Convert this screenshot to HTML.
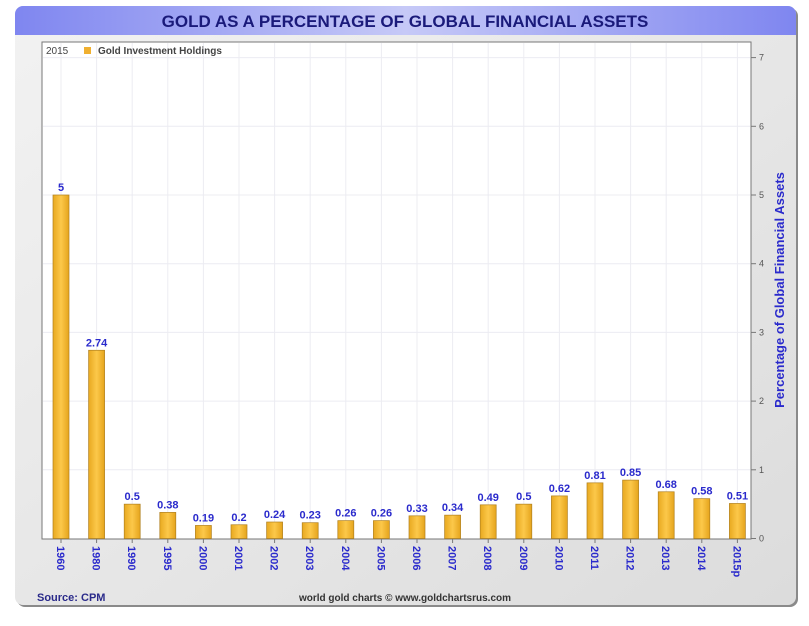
<!DOCTYPE html>
<html><head><meta charset="utf-8"><style>
body{margin:0;background:#fff;width:809px;height:621px;overflow:hidden;font-family:"Liberation Sans",sans-serif}
</style></head><body>
<svg width="809" height="621" xmlns="http://www.w3.org/2000/svg">
<defs>
<linearGradient id="tg" x1="0" x2="1"><stop offset="0" stop-color="#7f86f0"/><stop offset="0.5" stop-color="#c6c9f7"/><stop offset="1" stop-color="#7f86f0"/></linearGradient>
<linearGradient id="pg" x1="0" x2="1" y1="0" y2="1"><stop offset="0" stop-color="#f2f2f2"/><stop offset="1" stop-color="#dcdcdc"/></linearGradient>
<linearGradient id="bg" x1="0" x2="1"><stop offset="0" stop-color="#e8a920"/><stop offset="0.5" stop-color="#fcc84a"/><stop offset="1" stop-color="#e5a41c"/></linearGradient>
</defs>
<rect x="17" y="8" width="781" height="599" rx="8" fill="#8a8a8a"/>
<rect x="15" y="6" width="781" height="599" rx="8" fill="url(#pg)"/>
<path d="M15 35 V14 a8 8 0 0 1 8 -8 H788 a8 8 0 0 1 8 8 V35 Z" fill="url(#tg)"/>
<text x="405" y="27" text-anchor="middle" font-size="17" font-weight="bold" fill="#1a1a7a">GOLD AS A PERCENTAGE OF GLOBAL FINANCIAL ASSETS</text>
<rect x="42" y="42" width="709" height="497" fill="#fff" stroke="#777"/>
<g id="grid"></g>
<g id="bars"></g>
<g id="axes"></g>
<text x="46" y="54" font-size="10" fill="#444">2015</text>
<rect x="84" y="47" width="7" height="7" fill="#f0b030"/>
<text x="98" y="54" font-size="10" font-weight="bold" fill="#444">Gold Investment Holdings</text>
<text transform="translate(784,290) rotate(-90)" text-anchor="middle" font-size="13" font-weight="bold" fill="#2a2acc">Percentage of Global Financial Assets</text>
<text x="37" y="601" font-size="11" font-weight="bold" fill="#2a2a8a">Source: CPM</text>
<text x="405" y="601" text-anchor="middle" font-size="10" font-weight="bold" fill="#333">world gold charts © www.goldchartsrus.com</text>
</svg>
<script>
const categories=["1960","1980","1990","1995","2000","2001","2002","2003","2004","2005","2006","2007","2008","2009","2010","2011","2012","2013","2014","2015p"];
const values=[5,2.74,0.5,0.38,0.19,0.2,0.24,0.23,0.26,0.26,0.33,0.34,0.49,0.5,0.62,0.81,0.85,0.68,0.58,0.51];
const labels=["5","2.74","0.5","0.38","0.19","0.2","0.24","0.23","0.26","0.26","0.33","0.34","0.49","0.5","0.62","0.81","0.85","0.68","0.58","0.51"];
const yTicks=[0,1,2,3,4,5,6,7];
const NS="http://www.w3.org/2000/svg";
const y=v=>538.5-v*68.7;
const x=i=>61+i*35.6;
function mk(t,a,p){const e=document.createElementNS(NS,t);for(const k in a)e.setAttribute(k,a[k]);p.appendChild(e);return e;}
const grid=document.getElementById('grid'),bars=document.getElementById('bars'),axes=document.getElementById('axes');
yTicks.forEach(t=>{
 if(t>0){const l=mk('line',{x1:43,x2:750,y1:y(t),y2:y(t),stroke:'#ececf2'},grid);
 
 }
 const tk=mk('line',{x1:751,x2:756,y1:y(t),y2:y(t),stroke:'#777'},axes);
 
 
 const tx=mk('text',{x:759,y:y(t)+3,'font-size':9,fill:'#555'},axes);tx.textContent=t;
 
 
});
categories.forEach((c,i)=>{
 const g=mk('line',{x1:x(i),x2:x(i),y1:43,y2:538,stroke:'#ececf2'},grid);
 
 
 const b=mk('rect',{x:x(i)-8,y:y(values[i]),width:16,height:538.5-y(values[i]),fill:'url(#bg)',stroke:'#b08020','stroke-width':0.7},bars);
 
 
 const v=mk('text',{x:x(i),y:y(values[i])-4,'text-anchor':'middle','font-size':11,'font-weight':'bold',fill:'#2a2acc'},bars);v.textContent=labels[i];
 
 
 const tk=mk('line',{x1:x(i),x2:x(i),y1:539,y2:543,stroke:'#777'},axes);
 
 
 const xl=mk('text',{transform:`translate(${x(i)-4},546) rotate(90)`,'font-size':11,'font-weight':'bold',fill:'#2a2acc'},axes);xl.textContent=c;
 
 
});
</script>
</body></html>
